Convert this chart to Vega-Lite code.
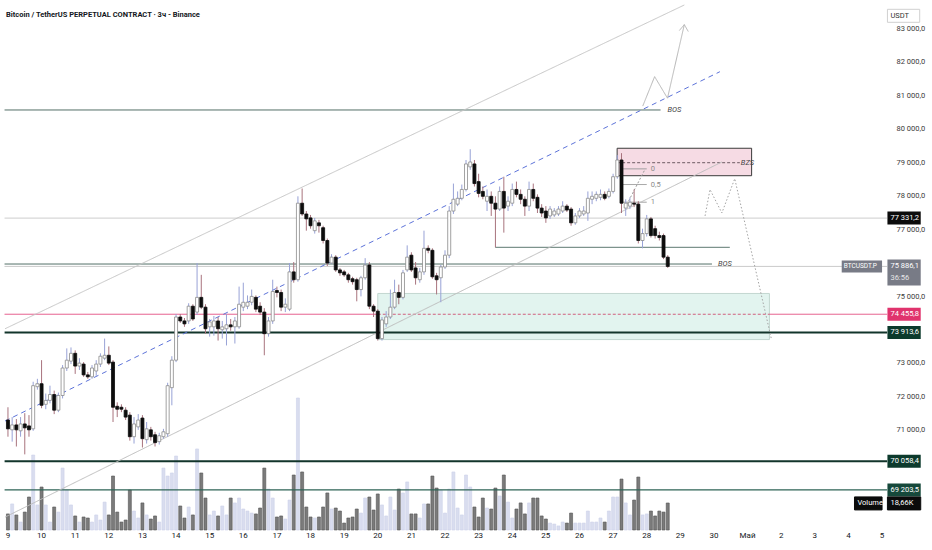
{
  "$schema": "https://vega.github.io/schema/vega-lite/v6.json",
  "width": 892,
  "height": 530,
  "autosize": {"type": "none"},
  "padding": {"left": 0, "top": 0, "right": 40, "bottom": 20},
  "background": "#ffffff",
  "datasets": {
    "candles": [
      {"t":9,"o":71293,"h":71675,"l":70794,"c":71029,"v":11.1},
      {"t":9.125,"o":71000,"h":71381,"l":70647,"c":71147,"v":18.0},
      {"t":9.25,"o":71147,"h":71322,"l":70501,"c":71000,"v":10.4},
      {"t":9.375,"o":70971,"h":71381,"l":70794,"c":71176,"v":5.5},
      {"t":9.5,"o":71176,"h":71498,"l":70266,"c":71059,"v":12.4},
      {"t":9.625,"o":71117,"h":71440,"l":70794,"c":71000,"v":22.8},
      {"t":9.75,"o":71029,"h":72438,"l":70971,"c":72320,"v":51.8},
      {"t":9.875,"o":72290,"h":72526,"l":72202,"c":72379,"v":17.3},
      {"t":10,"o":72379,"h":73083,"l":71646,"c":71734,"v":29.7},
      {"t":10.125,"o":71763,"h":72085,"l":71616,"c":71880,"v":17.3},
      {"t":10.25,"o":71880,"h":72320,"l":71792,"c":72056,"v":5.5},
      {"t":10.375,"o":72056,"h":72173,"l":71470,"c":71587,"v":15.9},
      {"t":10.5,"o":71587,"h":72114,"l":71528,"c":72027,"v":12.4},
      {"t":10.625,"o":72027,"h":72936,"l":71939,"c":72848,"v":42.8},
      {"t":10.75,"o":72848,"h":73435,"l":72760,"c":73083,"v":27.6},
      {"t":10.875,"o":73054,"h":73464,"l":72966,"c":73288,"v":17.3},
      {"t":11,"o":73288,"h":73376,"l":72672,"c":72907,"v":9.7},
      {"t":11.125,"o":72907,"h":73142,"l":72790,"c":72995,"v":5.5},
      {"t":11.25,"o":72966,"h":73025,"l":72584,"c":72643,"v":9.0},
      {"t":11.375,"o":72643,"h":72731,"l":72526,"c":72584,"v":8.3},
      {"t":11.5,"o":72584,"h":72936,"l":72526,"c":72848,"v":5.5},
      {"t":11.625,"o":72760,"h":73083,"l":72614,"c":72966,"v":10.4},
      {"t":11.75,"o":72966,"h":73288,"l":72878,"c":73201,"v":6.9},
      {"t":11.875,"o":73142,"h":73728,"l":73083,"c":73230,"v":19.3},
      {"t":12,"o":73230,"h":73494,"l":72936,"c":72995,"v":10.4},
      {"t":12.125,"o":73025,"h":73083,"l":71234,"c":71675,"v":37.3},
      {"t":12.25,"o":71704,"h":71822,"l":71381,"c":71616,"v":12.4},
      {"t":12.375,"o":71675,"h":71763,"l":71528,"c":71616,"v":5.5},
      {"t":12.5,"o":71587,"h":71675,"l":71293,"c":71381,"v":6.9},
      {"t":12.625,"o":71440,"h":71528,"l":70677,"c":70794,"v":27.6},
      {"t":12.75,"o":70794,"h":71381,"l":70589,"c":71176,"v":13.1},
      {"t":12.875,"o":71088,"h":71470,"l":71000,"c":71293,"v":8.3},
      {"t":13,"o":71352,"h":71440,"l":70472,"c":70735,"v":18.7},
      {"t":13.125,"o":70706,"h":71234,"l":70589,"c":71029,"v":10.4},
      {"t":13.25,"o":71000,"h":71088,"l":70677,"c":70794,"v":7.6},
      {"t":13.375,"o":70853,"h":70941,"l":70501,"c":70618,"v":9.7},
      {"t":13.5,"o":70647,"h":70912,"l":70560,"c":70823,"v":5.5},
      {"t":13.625,"o":70794,"h":71029,"l":70735,"c":70941,"v":42.8},
      {"t":13.75,"o":70883,"h":72408,"l":70794,"c":72320,"v":37.3},
      {"t":13.875,"o":72261,"h":73201,"l":71734,"c":73083,"v":39.4},
      {"t":14,"o":73083,"h":74462,"l":73025,"c":74374,"v":51.1},
      {"t":14.125,"o":74374,"h":74462,"l":74198,"c":74256,"v":16.6},
      {"t":14.25,"o":74256,"h":74344,"l":74080,"c":74168,"v":8.3},
      {"t":14.375,"o":74256,"h":74785,"l":74168,"c":74697,"v":15.9},
      {"t":14.5,"o":74697,"h":74756,"l":74256,"c":74315,"v":10.4},
      {"t":14.625,"o":74521,"h":75988,"l":74433,"c":74961,"v":56.0},
      {"t":14.75,"o":74961,"h":75635,"l":74609,"c":74668,"v":39.4},
      {"t":14.875,"o":74668,"h":74756,"l":73875,"c":74022,"v":22.1},
      {"t":15,"o":74080,"h":74315,"l":73787,"c":74227,"v":10.4},
      {"t":15.125,"o":74080,"h":74403,"l":73816,"c":74256,"v":13.1},
      {"t":15.25,"o":74256,"h":74374,"l":73669,"c":74022,"v":9.7},
      {"t":15.375,"o":73993,"h":74256,"l":73728,"c":74080,"v":16.6},
      {"t":15.5,"o":74022,"h":74462,"l":73523,"c":74139,"v":10.4},
      {"t":15.625,"o":74139,"h":74315,"l":73963,"c":74080,"v":22.1},
      {"t":15.75,"o":74080,"h":74374,"l":73581,"c":74256,"v":18.7},
      {"t":15.875,"o":74080,"h":75283,"l":74022,"c":74756,"v":22.1},
      {"t":16,"o":74668,"h":75400,"l":74550,"c":74815,"v":14.5},
      {"t":16.125,"o":74697,"h":75019,"l":74609,"c":74815,"v":13.1},
      {"t":16.25,"o":74815,"h":75195,"l":74726,"c":74990,"v":11.7},
      {"t":16.375,"o":74961,"h":75019,"l":74521,"c":74609,"v":11.1},
      {"t":16.5,"o":74697,"h":74815,"l":74433,"c":74521,"v":15.2},
      {"t":16.625,"o":74521,"h":74638,"l":73230,"c":73875,"v":42.8},
      {"t":16.75,"o":73875,"h":74374,"l":73787,"c":74256,"v":28.3},
      {"t":16.875,"o":74256,"h":75489,"l":74168,"c":75136,"v":22.1},
      {"t":17,"o":75166,"h":75283,"l":74961,"c":75107,"v":9.0},
      {"t":17.125,"o":75107,"h":75195,"l":74550,"c":74668,"v":9.7},
      {"t":17.25,"o":74668,"h":74931,"l":74521,"c":74756,"v":7.6},
      {"t":17.375,"o":74609,"h":75988,"l":74550,"c":75723,"v":20.7},
      {"t":17.5,"o":75723,"h":76017,"l":75400,"c":75489,"v":38.0},
      {"t":17.625,"o":75489,"h":77983,"l":75430,"c":77777,"v":91.2},
      {"t":17.75,"o":77777,"h":78217,"l":77396,"c":77455,"v":40.1},
      {"t":17.875,"o":77455,"h":77543,"l":76956,"c":77308,"v":15.9},
      {"t":18,"o":77337,"h":77426,"l":77015,"c":77103,"v":9.0},
      {"t":18.125,"o":76956,"h":77337,"l":76868,"c":77249,"v":8.3},
      {"t":18.25,"o":77190,"h":77278,"l":76897,"c":77103,"v":9.0},
      {"t":18.375,"o":77044,"h":77103,"l":76574,"c":76662,"v":15.9},
      {"t":18.5,"o":76662,"h":76721,"l":75900,"c":75988,"v":25.6},
      {"t":18.625,"o":75988,"h":76252,"l":75959,"c":76164,"v":14.5},
      {"t":18.75,"o":76164,"h":76222,"l":75723,"c":75782,"v":15.2},
      {"t":18.875,"o":75782,"h":75841,"l":75606,"c":75694,"v":13.1},
      {"t":19,"o":75723,"h":75782,"l":75577,"c":75635,"v":4.8},
      {"t":19.125,"o":75635,"h":75694,"l":75400,"c":75489,"v":8.3},
      {"t":19.25,"o":75518,"h":75577,"l":75342,"c":75430,"v":9.0},
      {"t":19.375,"o":75489,"h":75547,"l":74843,"c":75195,"v":14.5},
      {"t":19.5,"o":75195,"h":75606,"l":74990,"c":75547,"v":11.7},
      {"t":19.625,"o":75547,"h":76134,"l":75489,"c":75929,"v":22.1},
      {"t":19.75,"o":75929,"h":76017,"l":74609,"c":74697,"v":22.8},
      {"t":19.875,"o":74697,"h":74756,"l":74374,"c":74550,"v":13.8},
      {"t":20,"o":74550,"h":74609,"l":73669,"c":73728,"v":24.9},
      {"t":20.125,"o":73728,"h":74374,"l":73669,"c":74286,"v":17.3},
      {"t":20.25,"o":74168,"h":74550,"l":74080,"c":74374,"v":9.7},
      {"t":20.375,"o":74374,"h":75195,"l":74315,"c":74668,"v":22.8},
      {"t":20.5,"o":74668,"h":75489,"l":74609,"c":75107,"v":13.8},
      {"t":20.625,"o":75107,"h":75342,"l":74756,"c":74961,"v":28.3},
      {"t":20.75,"o":74961,"h":75782,"l":74902,"c":75694,"v":25.6},
      {"t":20.875,"o":75782,"h":76516,"l":75723,"c":76164,"v":33.2},
      {"t":21,"o":76222,"h":76310,"l":75723,"c":75782,"v":11.1},
      {"t":21.125,"o":75841,"h":76017,"l":75342,"c":75547,"v":11.1},
      {"t":21.25,"o":75489,"h":75841,"l":75400,"c":75723,"v":8.3},
      {"t":21.375,"o":75723,"h":76956,"l":75635,"c":76428,"v":18.0},
      {"t":21.5,"o":76428,"h":76516,"l":76281,"c":76369,"v":18.0},
      {"t":21.625,"o":76369,"h":76428,"l":75518,"c":75577,"v":37.3},
      {"t":21.75,"o":75606,"h":75694,"l":75048,"c":75489,"v":29.0},
      {"t":21.875,"o":75547,"h":75929,"l":74815,"c":75870,"v":27.6},
      {"t":22,"o":75870,"h":76369,"l":75811,"c":76222,"v":11.7},
      {"t":22.125,"o":76222,"h":77690,"l":76134,"c":77543,"v":28.3},
      {"t":22.25,"o":77543,"h":78364,"l":77455,"c":77895,"v":40.1},
      {"t":22.375,"o":77748,"h":78129,"l":77690,"c":77924,"v":15.2},
      {"t":22.5,"o":77924,"h":78334,"l":77865,"c":78188,"v":10.4},
      {"t":22.625,"o":78188,"h":79069,"l":78129,"c":78951,"v":38.0},
      {"t":22.75,"o":78863,"h":79391,"l":78775,"c":79010,"v":29.7},
      {"t":22.875,"o":78951,"h":79069,"l":78276,"c":78364,"v":15.9},
      {"t":23,"o":78423,"h":78658,"l":77953,"c":78070,"v":9.0},
      {"t":23.125,"o":78129,"h":78276,"l":77895,"c":77983,"v":22.1},
      {"t":23.25,"o":77836,"h":78188,"l":77543,"c":77983,"v":15.2},
      {"t":23.375,"o":77983,"h":78129,"l":77396,"c":77777,"v":14.5},
      {"t":23.5,"o":77777,"h":77983,"l":76457,"c":77601,"v":29.0},
      {"t":23.625,"o":77601,"h":78276,"l":77543,"c":78129,"v":23.5},
      {"t":23.75,"o":78129,"h":78569,"l":76897,"c":77631,"v":38.0},
      {"t":23.875,"o":77690,"h":77983,"l":77543,"c":77836,"v":19.3},
      {"t":24,"o":77777,"h":78364,"l":77690,"c":78188,"v":8.3},
      {"t":24.125,"o":78188,"h":78423,"l":77953,"c":78041,"v":14.5},
      {"t":24.25,"o":78041,"h":78188,"l":77748,"c":77895,"v":18.7},
      {"t":24.375,"o":77895,"h":77983,"l":77396,"c":77690,"v":11.1},
      {"t":24.5,"o":77690,"h":78423,"l":77543,"c":78188,"v":18.7},
      {"t":24.625,"o":78188,"h":78364,"l":77836,"c":77924,"v":22.1},
      {"t":24.75,"o":77953,"h":78041,"l":77484,"c":77631,"v":22.1},
      {"t":24.875,"o":77631,"h":77748,"l":77366,"c":77484,"v":9.7},
      {"t":25,"o":77543,"h":77690,"l":77190,"c":77337,"v":7.6},
      {"t":25.125,"o":77396,"h":77690,"l":77308,"c":77601,"v":4.8},
      {"t":25.25,"o":77426,"h":77631,"l":77366,"c":77543,"v":4.1},
      {"t":25.375,"o":77455,"h":77690,"l":77396,"c":77601,"v":2.8},
      {"t":25.5,"o":77543,"h":77836,"l":77484,"c":77690,"v":5.5},
      {"t":25.625,"o":77690,"h":77748,"l":77513,"c":77572,"v":4.8},
      {"t":25.75,"o":77601,"h":77660,"l":77103,"c":77190,"v":11.7},
      {"t":25.875,"o":77190,"h":77484,"l":77132,"c":77396,"v":4.8},
      {"t":26,"o":77396,"h":77631,"l":77337,"c":77543,"v":4.8},
      {"t":26.125,"o":77455,"h":77690,"l":77396,"c":77543,"v":4.8},
      {"t":26.25,"o":77484,"h":78129,"l":77249,"c":77924,"v":13.1},
      {"t":26.375,"o":77895,"h":78129,"l":77748,"c":77983,"v":5.5},
      {"t":26.5,"o":77924,"h":78129,"l":77836,"c":78041,"v":5.5},
      {"t":26.625,"o":77953,"h":78188,"l":77865,"c":78041,"v":8.3},
      {"t":26.75,"o":78041,"h":78129,"l":77865,"c":77924,"v":5.5},
      {"t":26.875,"o":77983,"h":78217,"l":77924,"c":78129,"v":13.1},
      {"t":27,"o":78129,"h":78658,"l":78070,"c":78569,"v":22.8},
      {"t":27.125,"o":78569,"h":79215,"l":78510,"c":79069,"v":22.8},
      {"t":27.25,"o":79069,"h":79274,"l":77484,"c":77777,"v":35.2},
      {"t":27.375,"o":77631,"h":77895,"l":77396,"c":77777,"v":18.7},
      {"t":27.5,"o":77690,"h":77953,"l":77601,"c":77807,"v":10.4},
      {"t":27.625,"o":77777,"h":78188,"l":77660,"c":77748,"v":20.7},
      {"t":27.75,"o":77748,"h":77836,"l":76574,"c":76662,"v":36.6},
      {"t":27.875,"o":76662,"h":77015,"l":76428,"c":76868,"v":10.4},
      {"t":28,"o":76868,"h":77426,"l":76780,"c":77308,"v":11.1},
      {"t":28.125,"o":77308,"h":77366,"l":76750,"c":76809,"v":13.1},
      {"t":28.25,"o":77015,"h":77103,"l":76721,"c":76809,"v":9.7},
      {"t":28.375,"o":76809,"h":76926,"l":76662,"c":76750,"v":13.1},
      {"t":28.5,"o":76809,"h":76868,"l":76105,"c":76164,"v":12.4},
      {"t":28.625,"o":76164,"h":76222,"l":75841,"c":75886.1,"v":18.66}
    ],
    "zones": [
      {"zone":"demand","t1":20.0,"t2":31.65,"p1":75078,"p2":73699},
      {"zone":"bzs","t1":27.12,"t2":31.12,"p1":79420,"p2":78599}
    ],
    "levels": [
      {"level":"bos_top","t1":8.9,"t2":28.41,"p":80565},
      {"level":"close","t1":8.9,"t2":35.15,"p":77331.2},
      {"level":"swing_low","t1":23.5,"t2":30.47,"p":76457},
      {"level":"bos_low","t1":8.9,"t2":29.94,"p":75958},
      {"level":"price","t1":8.9,"t2":35.15,"p":75886.1},
      {"level":"poi","t1":8.9,"t2":20.0,"p":74455.8},
      {"level":"poi","t1":31.65,"t2":35.15,"p":74455.8},
      {"level":"support","t1":8.9,"t2":35.15,"p":73913.6},
      {"level":"support","t1":8.9,"t2":35.15,"p":70058.4},
      {"level":"support_2","t1":8.9,"t2":35.15,"p":69203.5},
      {"level":"fib","t1":27.24,"t2":28.0,"p":78804},
      {"level":"fib","t1":27.24,"t2":28.0,"p":78335},
      {"level":"fib","t1":27.24,"t2":28.0,"p":77807},
      {"level":"bzs_mid","t1":27.12,"t2":30.77,"p":78988},
      {"level":"zone_mid","t1":20.0,"t2":31.65,"p":74455.8}
    ],
    "trends": [
      {"line":"upper","t":8.912,"p":74022},
      {"line":"upper","t":29.118,"p":83704},
      {"line":"lower","t":8.912,"p":68389},
      {"line":"lower","t":30.235,"p":79010},
      {"line":"mid","t":8.912,"p":71264},
      {"line":"mid","t":30.176,"p":81709},
      {"line":"fibdiag","t":27.353,"p":77631},
      {"line":"fibdiag","t":27.941,"p":78775},
      {"line":"proj_down","t":29.735,"p":77396},
      {"line":"proj_down","t":29.882,"p":78188},
      {"line":"proj_down","t":30.235,"p":77484},
      {"line":"proj_down","t":30.618,"p":78511},
      {"line":"proj_down","t":31.706,"p":73728},
      {"line":"proj_up","t":27.882,"p":80682},
      {"line":"proj_up","t":28.235,"p":81562},
      {"line":"proj_up","t":28.618,"p":80917},
      {"line":"proj_up","t":29.118,"p":83117},
      {"line":"arrow_l","t":28.971,"p":82941},
      {"line":"arrow_l","t":29.118,"p":83117},
      {"line":"arrow_r","t":29.118,"p":83117},
      {"line":"arrow_r","t":29.235,"p":82912}
    ],
    "tags": [
      {"tag":"close","p":77331.2},
      {"tag":"poi","p":74455.8},
      {"tag":"support","p":73913.6},
      {"tag":"support","p":70058.4},
      {"tag":"support_2","p":69203.5}
    ],
    "last": [
      {"p":75886.1,"timer":"36:56"}
    ],
    "badges": [
      {"badge":"vol","t1":34.18,"t2":35.0,"p":68799,"text":"Volume"},
      {"badge":"vol","t1":35.16,"t2":36.15,"p":68799,"text":"18,66K"},
      {"badge":"unit","t1":35.16,"t2":36.12,"p":83381,"text":"USDT"}
    ],
    "notes": [
      {"kind":"title","t":8.94,"p":83411,"text":"Bitcoin / TetherUS PERPETUAL CONTRACT · 3ч - Binance"},
      {"kind":"mark","t":28.62,"p":80565,"text":"BOS"},
      {"kind":"mark","t":30.12,"p":75958,"text":"BOS"},
      {"kind":"mark","t":30.8,"p":78988,"text":"BZS"},
      {"kind":"fib","t":28.12,"p":78804,"text":"0"},
      {"kind":"fib","t":28.12,"p":78335,"text":"0,5"},
      {"kind":"fib","t":28.12,"p":77807,"text":"1"}
    ],
    "days": [
      {"d":9,"label":"9"},{"d":10,"label":"10"},{"d":11,"label":"11"},{"d":12,"label":"12"},
      {"d":13,"label":"13"},{"d":14,"label":"14"},{"d":15,"label":"15"},{"d":16,"label":"16"},
      {"d":17,"label":"17"},{"d":18,"label":"18"},{"d":19,"label":"19"},{"d":20,"label":"20"},
      {"d":21,"label":"21"},{"d":22,"label":"22"},{"d":23,"label":"23"},{"d":24,"label":"24"},
      {"d":25,"label":"25"},{"d":26,"label":"26"},{"d":27,"label":"27"},{"d":28,"label":"28"},
      {"d":29,"label":"29"},{"d":30,"label":"30"},{"d":31,"label":"Май"},{"d":32,"label":"2"},
      {"d":33,"label":"3"},{"d":34,"label":"4"},{"d":35,"label":"5"}
    ]
  },
  "config": {
    "locale": {"number": {"decimal": ",", "thousands": " ", "grouping": [3], "currency": ["", ""]}},
    "view": {"stroke": null},
    "font": "Roboto",
    "text": {"font": "Roboto"},
    "axis": {"grid": false, "domain": false, "ticks": false, "labelFont": "Roboto", "labelColor": "#3a3a3a", "labelFontSize": 7.5, "labelOverlap": false, "labelBound": false},
    "axisY": {"labelPadding": 4, "labelAlign": "left"}
  },
  "resolve": {"scale": {"y": "independent"}},
  "layer": [
    {
      "data": {"name": "candles"},
      "mark": {"type": "bar", "size": 3, "strokeWidth": 0.6},
      "encoding": {
        "x": {"field": "t", "type": "quantitative", "title": null,
              "scale": {"domain": [8.912, 35.147], "nice": false, "zero": false}, "axis": null},
        "y": {"field": "v", "type": "quantitative", "title": null,
              "scale": {"domain": [0, 366.2], "nice": false, "zero": true}, "axis": null},
        "fill": {"condition": {"test": "datum.c >= datum.o", "value": "#d9ddef"}, "value": "#7b7b7b"},
        "stroke": {"condition": {"test": "datum.c >= datum.o", "value": "#ccd1ea"}, "value": "#545454"}
      }
    },
    {
      "resolve": {"scale": {"color": "independent", "fill": "independent", "stroke": "independent", "strokeDash": "independent"}},
      "layer": [
        {
          "data": {"name": "zones"},
          "mark": {"type": "rect", "strokeWidth": 1},
          "encoding": {
            "x": {"field": "t1", "type": "quantitative", "title": null,
                  "scale": {"domain": [8.912, 35.147], "nice": false, "zero": false}},
            "x2": {"field": "t2"},
            "y": {"field": "p1", "type": "quantitative", "title": null,
                  "scale": {"domain": [68154, 83704], "nice": false, "zero": false},
                  "axis": {"orient": "right", "format": ",.1f", "labelOverlap": false, "labelAlign": "left",
                           "values": [71000,72000,73000,75000,77000,78000,79000,80000,81000,82000,83000]}},
            "y2": {"field": "p2"},
            "fill": {"field": "zone", "type": "nominal", "legend": null, "scale": {"domain": ["demand", "bzs"], "range": ["#e2f4ef", "#f6dbe4"]}},
            "stroke": {"field": "zone", "type": "nominal", "legend": null, "scale": {"domain": ["demand", "bzs"], "range": ["#c3d7d0", "#3a3a3a"]}}
          }
        },
        {
          "data": {"name": "levels"},
          "mark": {"type": "rule"},
          "encoding": {
            "x": {"field": "t1", "type": "quantitative", "title": null, "scale": {"domain": [8.912, 35.147], "nice": false, "zero": false}},
            "x2": {"field": "t2"},
            "y": {"field": "p", "type": "quantitative", "title": null, "scale": {"domain": [68154, 83704], "nice": false, "zero": false}},
            "color": {"field": "level", "type": "nominal", "legend": null,
                      "scale": {"domain": ["bos_top","close","swing_low","bos_low","price","poi","support","support_2","fib","bzs_mid","zone_mid"],
                                "range": ["#3b5c52","#c4c4c4","#3b5c52","#3b5c52","#bdbdbd","#e2477c","#12352b","#2f6457","#9a9a9a","#6e5a62","#d0607f"]}},
            "strokeDash": {"field": "level", "type": "nominal", "legend": null,
                           "scale": {"domain": ["bos_top","close","swing_low","bos_low","price","poi","support","support_2","fib","bzs_mid","zone_mid"],
                                     "range": [[1,0],[1,0],[1,0],[1,0],[1,0],[1,0],[1,0],[1,0],[1,0],[3,2],[3,2]]}},
            "strokeWidth": {"condition": [{"test": "datum.level == 'support'", "value": 2}, {"test": "datum.level == 'support_2'", "value": 1.4}], "value": 1}
          }
        },
        {
          "data": {"name": "trends"},
          "mark": {"type": "line", "strokeWidth": 1},
          "encoding": {
            "x": {"field": "t", "type": "quantitative", "title": null, "scale": {"domain": [8.912, 35.147], "nice": false, "zero": false}},
            "y": {"field": "p", "type": "quantitative", "title": null, "scale": {"domain": [68154, 83704], "nice": false, "zero": false}},
            "detail": {"field": "line", "type": "nominal"},
            "color": {"field": "line", "type": "nominal", "legend": null,
                      "scale": {"domain": ["upper","lower","mid","fibdiag","proj_down","proj_up","arrow_l","arrow_r"],
                                "range": ["#c6c6c6","#bdbdbd","#5d73d9","#9a9a9a","#a4a4a4","#b6b6b6","#b6b6b6","#b6b6b6"]}},
            "strokeDash": {"field": "line", "type": "nominal", "legend": null,
                           "scale": {"domain": ["upper","lower","mid","fibdiag","proj_down","proj_up","arrow_l","arrow_r"],
                                     "range": [[1,0],[1,0],[5,4],[2,2],[1.5,2],[1,0],[1,0],[1,0]]}}
          }
        },
        {
          "data": {"name": "candles"},
          "mark": {"type": "rule", "strokeWidth": 1},
          "encoding": {
            "x": {"field": "t", "type": "quantitative", "title": null, "scale": {"domain": [8.912, 35.147], "nice": false, "zero": false}},
            "y": {"field": "l", "type": "quantitative", "title": null, "scale": {"domain": [68154, 83704], "nice": false, "zero": false}},
            "y2": {"field": "h"},
            "color": {"condition": {"test": "datum.c >= datum.o", "value": "#98a2d6"}, "value": "#a8737d"}
          }
        },
        {
          "data": {"name": "candles"},
          "mark": {"type": "bar", "size": 3, "strokeWidth": 0.8},
          "encoding": {
            "x": {"field": "t", "type": "quantitative", "title": null, "scale": {"domain": [8.912, 35.147], "nice": false, "zero": false}},
            "y": {"field": "o", "type": "quantitative", "title": null, "scale": {"domain": [68154, 83704], "nice": false, "zero": false}},
            "y2": {"field": "c"},
            "fill": {"condition": {"test": "datum.c >= datum.o", "value": "#ffffff"}, "value": "#0d0d0d"},
            "stroke": {"condition": {"test": "datum.c >= datum.o", "value": "#8a8a8a"}, "value": "#0d0d0d"}
          }
        },
        {
          "data": {"name": "days"},
          "mark": {"type": "text", "align": "center", "baseline": "middle", "fontSize": 8, "color": "#131722"},
          "encoding": {
            "x": {"field": "d", "type": "quantitative", "title": null, "scale": {"domain": [8.912, 35.147], "nice": false, "zero": false}},
            "y": {"datum": 67831, "type": "quantitative", "scale": {"domain": [68154, 83704], "nice": false, "zero": false}},
            "text": {"field": "label", "type": "nominal"}
          }
        },
        {
          "data": {"name": "tags"},
          "mark": {"type": "bar", "orient": "horizontal", "size": 13},
          "encoding": {
            "x": {"datum": 35.16, "type": "quantitative", "scale": {"domain": [8.912, 35.147], "nice": false, "zero": false}},
            "x2": {"datum": 36.15},
            "y": {"field": "p", "type": "quantitative", "title": null, "scale": {"domain": [68154, 83704], "nice": false, "zero": false}},
            "fill": {"field": "tag", "type": "nominal", "legend": null,
                     "scale": {"domain": ["close", "poi", "support", "support_2"], "range": ["#0b0b0b", "#e0336d", "#0c3a2c", "#16493b"]}}
          }
        },
        {
          "data": {"name": "tags"},
          "mark": {"type": "text", "align": "left", "baseline": "middle", "dx": 3, "fontSize": 7.5, "color": "#ffffff"},
          "encoding": {
            "x": {"datum": 35.16, "type": "quantitative", "scale": {"domain": [8.912, 35.147], "nice": false, "zero": false}},
            "y": {"field": "p", "type": "quantitative", "title": null, "scale": {"domain": [68154, 83704], "nice": false, "zero": false}},
            "text": {"field": "p", "type": "quantitative", "format": ",.1f"}
          }
        },
        {
          "data": {"name": "last"},
          "mark": {"type": "bar", "orient": "horizontal", "size": 26, "yOffset": 6, "fill": "#787b86"},
          "encoding": {
            "x": {"datum": 35.16, "type": "quantitative", "scale": {"domain": [8.912, 35.147], "nice": false, "zero": false}},
            "x2": {"datum": 36.15},
            "y": {"field": "p", "type": "quantitative", "title": null, "scale": {"domain": [68154, 83704], "nice": false, "zero": false}}
          }
        },
        {
          "data": {"name": "last"},
          "mark": {"type": "bar", "orient": "horizontal", "size": 12, "fill": "#787b86"},
          "encoding": {
            "x": {"datum": 33.8, "type": "quantitative", "scale": {"domain": [8.912, 35.147], "nice": false, "zero": false}},
            "x2": {"datum": 35.0},
            "y": {"field": "p", "type": "quantitative", "title": null, "scale": {"domain": [68154, 83704], "nice": false, "zero": false}}
          }
        },
        {
          "data": {"name": "last"},
          "mark": {"type": "text", "align": "left", "baseline": "middle", "dx": 3, "fontSize": 7.5, "color": "#ffffff"},
          "encoding": {
            "x": {"datum": 35.16, "type": "quantitative", "scale": {"domain": [8.912, 35.147], "nice": false, "zero": false}},
            "y": {"field": "p", "type": "quantitative", "title": null, "scale": {"domain": [68154, 83704], "nice": false, "zero": false}},
            "text": {"field": "p", "type": "quantitative", "format": ",.1f"}
          }
        },
        {
          "data": {"name": "last"},
          "mark": {"type": "text", "align": "left", "baseline": "middle", "dx": 3, "dy": 12, "fontSize": 7.5, "color": "#e6e6e6"},
          "encoding": {
            "x": {"datum": 35.16, "type": "quantitative", "scale": {"domain": [8.912, 35.147], "nice": false, "zero": false}},
            "y": {"field": "p", "type": "quantitative", "title": null, "scale": {"domain": [68154, 83704], "nice": false, "zero": false}},
            "text": {"field": "timer", "type": "nominal"}
          }
        },
        {
          "data": {"name": "last"},
          "mark": {"type": "text", "align": "left", "baseline": "middle", "dx": 2, "fontSize": 6.5, "color": "#ffffff"},
          "encoding": {
            "x": {"datum": 33.8, "type": "quantitative", "scale": {"domain": [8.912, 35.147], "nice": false, "zero": false}},
            "y": {"field": "p", "type": "quantitative", "title": null, "scale": {"domain": [68154, 83704], "nice": false, "zero": false}},
            "text": {"value": "BTCUSDT.P"}
          }
        },
        {
          "data": {"name": "badges"},
          "mark": {"type": "bar", "orient": "horizontal", "size": 13, "strokeWidth": 1},
          "encoding": {
            "x": {"field": "t1", "type": "quantitative", "title": null, "scale": {"domain": [8.912, 35.147], "nice": false, "zero": false}},
            "x2": {"field": "t2"},
            "y": {"field": "p", "type": "quantitative", "title": null, "scale": {"domain": [68154, 83704], "nice": false, "zero": false}},
            "fill": {"field": "badge", "type": "nominal", "legend": null, "scale": {"domain": ["vol", "unit"], "range": ["#0b0b0b", "#ffffff"]}},
            "stroke": {"field": "badge", "type": "nominal", "legend": null, "scale": {"domain": ["vol", "unit"], "range": ["#0b0b0b", "#d0d0d0"]}}
          }
        },
        {
          "data": {"name": "badges"},
          "mark": {"type": "text", "align": "left", "baseline": "middle", "dx": 3, "fontSize": 7.5},
          "encoding": {
            "x": {"field": "t1", "type": "quantitative", "title": null, "scale": {"domain": [8.912, 35.147], "nice": false, "zero": false}},
            "y": {"field": "p", "type": "quantitative", "title": null, "scale": {"domain": [68154, 83704], "nice": false, "zero": false}},
            "text": {"field": "text", "type": "nominal"},
            "color": {"condition": {"test": "datum.badge == 'unit'", "value": "#333333"}, "value": "#ffffff"}
          }
        },
        {
          "data": {"name": "notes"},
          "transform": [{"filter": "datum.kind == 'title'"}],
          "mark": {"type": "text", "align": "left", "baseline": "middle", "fontSize": 7.5, "fontWeight": "bold", "color": "#131722"},
          "encoding": {
            "x": {"field": "t", "type": "quantitative", "title": null, "scale": {"domain": [8.912, 35.147], "nice": false, "zero": false}},
            "y": {"field": "p", "type": "quantitative", "title": null, "scale": {"domain": [68154, 83704], "nice": false, "zero": false}},
            "text": {"field": "text", "type": "nominal"}
          }
        },
        {
          "data": {"name": "notes"},
          "transform": [{"filter": "datum.kind == 'mark'"}],
          "mark": {"type": "text", "align": "left", "baseline": "middle", "fontSize": 7.5, "fontStyle": "italic", "color": "#444444"},
          "encoding": {
            "x": {"field": "t", "type": "quantitative", "title": null, "scale": {"domain": [8.912, 35.147], "nice": false, "zero": false}},
            "y": {"field": "p", "type": "quantitative", "title": null, "scale": {"domain": [68154, 83704], "nice": false, "zero": false}},
            "text": {"field": "text", "type": "nominal"}
          }
        },
        {
          "data": {"name": "notes"},
          "transform": [{"filter": "datum.kind == 'fib'"}],
          "mark": {"type": "text", "align": "left", "baseline": "middle", "fontSize": 7.5, "color": "#8a8a8a"},
          "encoding": {
            "x": {"field": "t", "type": "quantitative", "title": null, "scale": {"domain": [8.912, 35.147], "nice": false, "zero": false}},
            "y": {"field": "p", "type": "quantitative", "title": null, "scale": {"domain": [68154, 83704], "nice": false, "zero": false}},
            "text": {"field": "text", "type": "nominal"}
          }
        }
      ]
    }
  ]
}
